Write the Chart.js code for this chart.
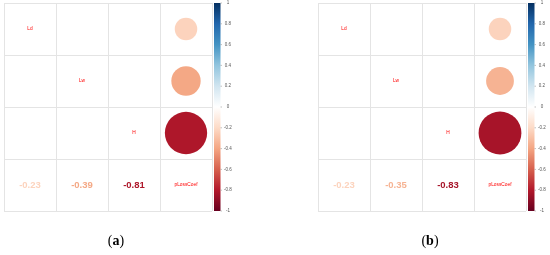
<!DOCTYPE html>
<html>
<head>
<meta charset="utf-8">
<script src="https://cdn.jsdelivr.net/npm/chart.js@4.4.0/dist/chart.umd.min.js"></script>
<style>
    body { margin: 0; width: 550px; height: 255px; overflow: hidden; background: #fff; position: relative; }
    canvas { position: absolute; top: 0; }
    #chartA { left: 0; }
    #chartB { left: 275px; }
    .caption { position: absolute; top: 233px; width: 40px; text-align: center; line-height: 16px;
        font-family: "Liberation Serif", "DejaVu Serif", serif; font-size: 14px; color: #000; }
</style>
</head>
<body>
<canvas id="chartA" width="275" height="255"></canvas>
<canvas id="chartB" width="275" height="255"></canvas>
<div class="caption" style="left:96px">(<b>a</b>)</div>
<div class="caption" style="left:410px">(<b>b</b>)</div>
<script>
// Переменные (диагональ)
const variables = ["Ld", "Lw", "H", "pLossCoef"];

// Корреляции с pLossCoef для каждой панели
const corrA = [-0.23, -0.39, -0.81];
const corrB = [-0.23, -0.35, -0.83];

// Шкала цветовой легенды
const colorbarMin = -1;
const colorbarMax = 1;
const colorbarStep = 0.2;

// Палитра RdBu как в corrplot (от -1 до 1)
const palette = ["#67001F", "#B2182B", "#D6604D", "#F4A582", "#FDDBC7", "#FFFFFF",
    "#D1E5F0", "#92C5DE", "#4393C3", "#2166AC", "#053061"];

function hexToRgb(h) {
    return [parseInt(h.slice(1, 3), 16), parseInt(h.slice(3, 5), 16), parseInt(h.slice(5, 7), 16)];
}

function corrColor(v) {
    const t = (v + 1) / 2 * (palette.length - 1);
    const i = Math.min(Math.floor(t), palette.length - 2);
    const f = t - i;
    const a = hexToRgb(palette[i]);
    const b = hexToRgb(palette[i + 1]);
    const c = a.map((x, k) => Math.round(x + (b[k] - x) * f));
    return `rgb(${c[0]}, ${c[1]}, ${c[2]})`;
}

// точки для кругов в последнем столбце
function bubblePoints(corr) {
    return corr.map((v, i) => ({ x: 3.5, y: i + 0.5, v: v }));
}

// подписи и числа в ячейках
const labelsPlugin = {
    id: "corrLabels",
    afterDatasetsDraw(chart) {
        const ctx = chart.ctx;
        const xs = chart.scales.x;
        const ys = chart.scales.y;
        const corr = chart.options.plugins.corrLabels.values;
        ctx.save();
        ctx.textAlign = "center";
        ctx.textBaseline = "middle";
        ctx.fillStyle = "red";
        ctx.font = "4.8px Arial";
        variables.forEach((name, i) => {
            ctx.fillText(name, xs.getPixelForValue(i + 0.5), ys.getPixelForValue(i + 0.5));
        });
        ctx.font = "bold 9.5px Arial";
        corr.forEach((v, i) => {
            ctx.fillStyle = corrColor(v);
            ctx.fillText(v.toFixed(2), xs.getPixelForValue(i + 0.5), ys.getPixelForValue(3.5));
        });
        ctx.restore();
    },
};

// цветовая шкала справа
const colorbarPlugin = {
    id: "colorbar",
    afterDraw(chart) {
        const ctx = chart.ctx;
        const cb = chart.scales.cb;
        const top = cb.getPixelForValue(colorbarMax);
        const bottom = cb.getPixelForValue(colorbarMin);
        const x0 = chart.chartArea.right + 2;
        const w = 6.5;
        const grad = ctx.createLinearGradient(0, bottom, 0, top);
        palette.forEach((c, i) => grad.addColorStop(i / (palette.length - 1), c));
        ctx.save();
        ctx.fillStyle = grad;
        ctx.fillRect(x0, top, w, bottom - top);
        ctx.strokeStyle = "#999";
        ctx.lineWidth = 0.6;
        cb.ticks.forEach((t) => {
            const y = cb.getPixelForValue(t.value);
            ctx.beginPath();
            ctx.moveTo(x0 + w, y);
            ctx.lineTo(x0 + w + 1.5, y);
            ctx.stroke();
        });
        ctx.restore();
    },
};

function createCorrChart(id, corr, padLeft, padRight) {
    const gridStyle = { color: "#e4e4e4", drawTicks: false };
    const chart = new Chart(document.getElementById(id), {
        type: "bubble",
        data: {
            datasets: [
                {
                    data: bubblePoints(corr),
                    backgroundColor: (c) => corrColor(c.raw.v),
                    borderWidth: 0,
                    radius: (c) => {
                        const xs = c.chart.scales.x;
                        const cell = xs.getPixelForValue(1) - xs.getPixelForValue(0);
                        const r = 0.452 * cell * Math.sqrt(Math.abs(c.raw.v));
                        return isFinite(r) ? r : undefined;
                    },
                },
            ],
        },
        options: {
            responsive: false,
            animation: false,
            events: [],
            layout: { autoPadding: false, padding: { left: padLeft, right: padRight, top: 3, bottom: 44 } },
            plugins: {
                legend: { display: false },
                tooltip: { enabled: false },
                corrLabels: { values: corr },
            },
            scales: {
                x: { type: "linear", min: 0, max: 4, ticks: { display: false, stepSize: 1 }, grid: gridStyle, border: { display: false } },
                y: { type: "linear", min: 0, max: 4, reverse: true, ticks: { display: false, stepSize: 1 }, grid: gridStyle, border: { display: false } },
                cb: {
                    type: "linear",
                    position: "right",
                    min: colorbarMin,
                    max: colorbarMax,
                    grid: { display: false, drawTicks: false },
                    border: { display: false },
                    ticks: {
                        stepSize: colorbarStep,
                        padding: 12,
                        crossAlign: "center",
                        color: "#555",
                        font: { size: 4.5, family: "Arial" },
                        callback: (v) => String(Number(v.toFixed(1))),
                    },
                    afterFit: (s) => {
                        s.width = 22;
                        s.paddingTop = 0;
                        s.paddingBottom = 0;
                    },
                },
            },
        },
        plugins: [labelsPlugin, colorbarPlugin],
    });
    // радиус зависит от размера ячейки: перечитываем данные после разметки шкал
    chart.data.datasets[0].data = bubblePoints(corr);
    chart.update("none");
}

createCorrChart("chartA", corrA, 4, 41);
createCorrChart("chartB", corrB, 43, 2);
</script>
</body>
</html>
